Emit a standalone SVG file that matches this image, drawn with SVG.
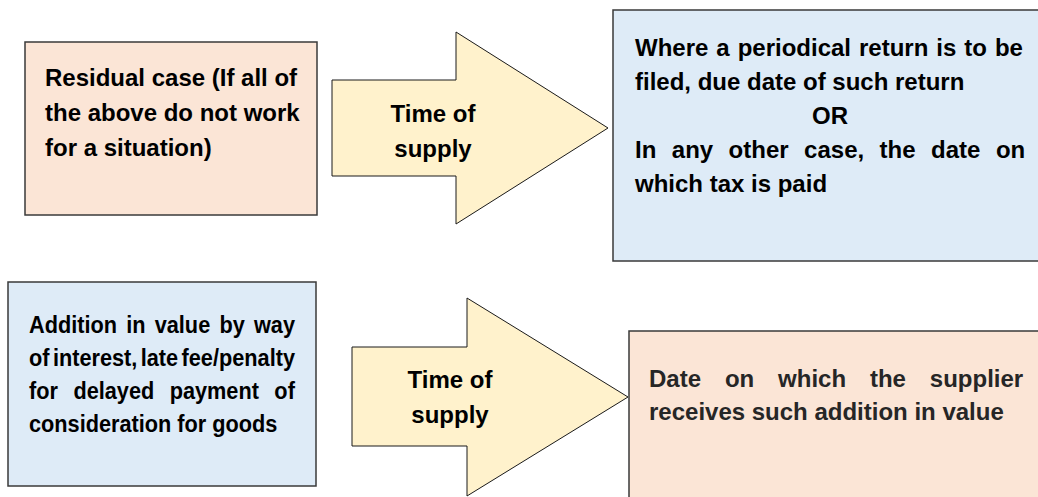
<svg xmlns="http://www.w3.org/2000/svg" width="1038" height="497" viewBox="0 0 1038 497">
<style>
.box{stroke:#3a3a3a;stroke-width:1.5}
.peach{fill:#FBE5D6}
.blue{fill:#DEEBF7}
.arrow{fill:#FFF2CC;stroke:#1a1a1a;stroke-width:1}
text{font-family:"Liberation Sans",Arial,sans-serif;font-weight:bold;font-size:24px;fill:#000}
.mid{text-anchor:middle}
.dark{fill:#262626}
</style>
<rect width="1038" height="497" fill="#ffffff"/>
<g id="residual-case">
<rect class="box peach" x="25" y="42" width="292" height="173"/>
<text x="45" y="86">Residual case (If all of</text>
<text x="45" y="121">the above do not work</text>
<text x="45" y="156">for a situation)</text>
</g>
<g id="connectors">
<g id="arrow-top">
<polygon class="arrow" points="332,80 456,80 456,32 608,128 456,224 456,176 332,176"/>
<text class="mid" x="433" y="122">Time of</text>
<text class="mid" x="433" y="157">supply</text>
</g>
<g id="arrow-bottom">
<polygon class="arrow" points="352,347 467,347 467,298 628,397 467,496 467,446 352,446"/>
<text class="mid" x="450" y="388">Time of</text>
<text class="mid" x="450" y="423">supply</text>
</g>
</g>
<g id="periodical-return">
<rect class="box blue" x="613" y="10" width="440" height="251"/>
<text x="635" y="56" word-spacing="1.3">Where a periodical return is to be</text>
<text x="635" y="90">filed, due date of such return</text>
<text class="mid" x="830" y="124">OR</text>
<text x="635" y="158" word-spacing="8.8">In any other case, the date on</text>
<text x="635" y="192">which tax is paid</text>
</g>
<g id="addition-in-value">
<rect class="box blue" x="8" y="282" width="308" height="204"/>
<g transform="translate(29,0) scale(0.905,1)">
<text x="0" y="333" word-spacing="3.5">Addition in value by way</text>
<text x="0" y="366" word-spacing="-2.9">of interest, late fee/penalty</text>
<text x="0" y="399" word-spacing="10.4">for delayed payment of</text>
<text x="0" y="432">consideration for goods</text>
</g>
</g>
<g id="supplier-receives">
<rect class="box peach" x="629" y="331" width="430" height="190"/>
<text class="dark" x="649" y="387" word-spacing="17.2">Date on which the supplier</text>
<text class="dark" x="649" y="420">receives such addition in value</text>
</g>
</svg>
